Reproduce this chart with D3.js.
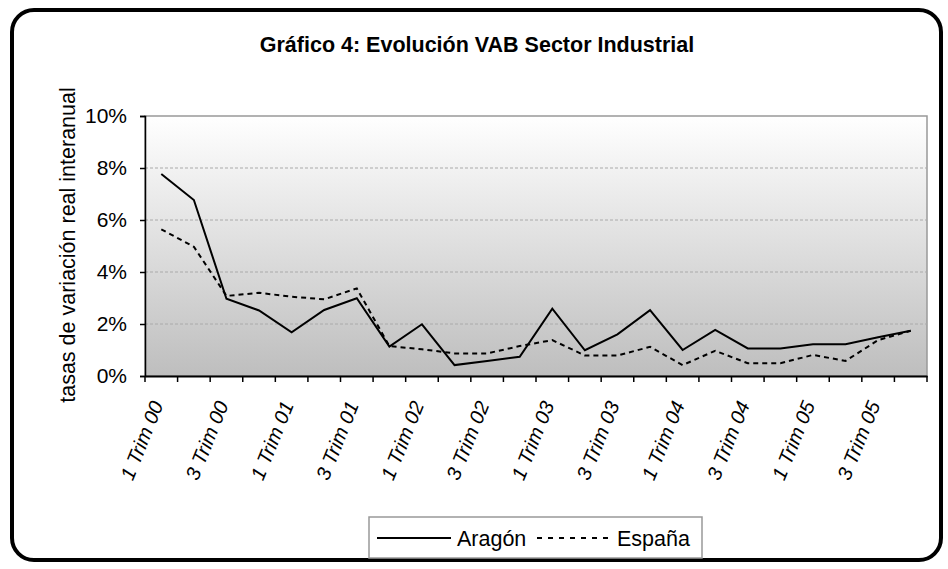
<!DOCTYPE html>
<html>
<head>
<meta charset="utf-8">
<script src="https://cdn.jsdelivr.net/npm/d3@7"></script>
<style>
  body { margin: 0; background: #fff; }
  svg text { font-family: "Liberation Sans", Arial, sans-serif; fill: #000; }
</style>
</head>
<body>
<svg id="chart" width="948" height="569"></svg>
<script>
// Trimestres 2000-2005
const quarters = [
  '1 Trim 00', '2 Trim 00', '3 Trim 00', '4 Trim 00',
  '1 Trim 01', '2 Trim 01', '3 Trim 01', '4 Trim 01',
  '1 Trim 02', '2 Trim 02', '3 Trim 02', '4 Trim 02',
  '1 Trim 03', '2 Trim 03', '3 Trim 03', '4 Trim 03',
  '1 Trim 04', '2 Trim 04', '3 Trim 04', '4 Trim 04',
  '1 Trim 05', '2 Trim 05', '3 Trim 05', '4 Trim 05'
];
const aragon = [7.77, 6.77, 2.97, 2.52, 1.68, 2.54, 2.99, 1.13,
                1.99, 0.42, 0.58, 0.74, 2.59, 0.99, 1.6, 2.53,
                1.0, 1.77, 1.06, 1.06, 1.22, 1.22, 1.49, 1.74];
const espana = [5.64, 4.97, 3.08, 3.2, 3.05, 2.95, 3.37, 1.15,
                1.03, 0.87, 0.87, 1.15, 1.38, 0.79, 0.79, 1.12,
                0.42, 0.97, 0.49, 0.49, 0.81, 0.58, 1.38, 1.74];
const yTicks = [0, 2, 4, 6, 8, 10];
const series = [
  { name: 'Aragón', values: aragon, dash: null },
  { name: 'España', values: espana, dash: '5,4' }
];

const svg = d3.select('#chart');

// marco redondeado
svg.append('rect')
  .attr('x', 12).attr('y', 10)
  .attr('width', 929).attr('height', 550)
  .attr('rx', 22).attr('ry', 22)
  .attr('fill', '#fff')
  .attr('stroke', '#000')
  .attr('stroke-width', 4);

svg.append('text')
  .attr('x', 477).attr('y', 52)
  .attr('text-anchor', 'middle')
  .style('font-size', '21.5px')
  .style('font-weight', 'bold')
  .text('Gráfico 4: Evolución VAB Sector Industrial');

const plot = { left: 145, right: 927, top: 116, bottom: 376 };

const x = d3.scaleBand().domain(quarters).range([plot.left, plot.right]);
const y = d3.scaleLinear().domain([0, 10]).range([plot.bottom, plot.top]);

// fondo degradado
const grad = svg.append('defs').append('linearGradient')
  .attr('id', 'bg').attr('x1', 0).attr('y1', 0).attr('x2', 0).attr('y2', 1);
grad.append('stop').attr('offset', '0%').attr('stop-color', '#ffffff');
grad.append('stop').attr('offset', '100%').attr('stop-color', '#bebebe');

svg.append('rect')
  .attr('x', plot.left).attr('y', plot.top)
  .attr('width', plot.right - plot.left).attr('height', plot.bottom - plot.top)
  .attr('fill', 'url(#bg)')
  .attr('stroke', '#999').attr('stroke-width', 1.5);

// rejilla
svg.append('g').selectAll('line')
  .data(yTicks.filter(d => d > 0 && d < 10))
  .join('line')
  .attr('x1', plot.left).attr('x2', plot.right)
  .attr('y1', d => y(d)).attr('y2', d => y(d))
  .attr('stroke', '#aaa').attr('stroke-dasharray', '3,2');

// eje Y
const yAxis = svg.append('g')
  .attr('transform', `translate(${plot.left},0)`)
  .call(d3.axisLeft(y).tickValues(yTicks).tickSize(5).tickPadding(13).tickFormat(d => d + '%'));
yAxis.selectAll('text').style('font-size', '21px');
yAxis.selectAll('line, path').attr('stroke', '#000').attr('stroke-width', 1.5);

// eje X
const xAxis = svg.append('g')
  .attr('transform', `translate(0,${plot.bottom})`)
  .call(d3.axisBottom(x).tickSize(0).tickFormat((d, i) => i % 2 === 0 ? d : ''));
xAxis.select('.domain').attr('stroke', '#000').attr('stroke-width', 2);
xAxis.selectAll('text')
  .style('font-size', '20px')
  .style('font-style', 'italic')
  .attr('text-anchor', 'end')
  .attr('y', 0)
  .attr('dy', '0.35em')
  .attr('transform', 'translate(-4,26) rotate(-68)');

// marcas entre categorías
const bounds = d3.range(quarters.length + 1).map(i => plot.left + i * x.step());
svg.append('g').selectAll('line')
  .data(bounds)
  .join('line')
  .attr('x1', d => d).attr('x2', d => d)
  .attr('y1', plot.bottom).attr('y2', plot.bottom + 6)
  .attr('stroke', '#000').attr('stroke-width', 1.5);

// líneas
const line = d3.line()
  .x((d, i) => x(quarters[i]) + x.bandwidth() / 2)
  .y(d => y(d));

svg.append('g').selectAll('path')
  .data(series)
  .join('path')
  .attr('d', d => line(d.values))
  .attr('fill', 'none')
  .attr('stroke', '#000')
  .attr('stroke-width', 2)
  .attr('stroke-dasharray', d => d.dash);

// título eje Y
svg.append('text')
  .attr('transform', `translate(75,245) rotate(-90)`)
  .attr('text-anchor', 'middle')
  .style('font-size', '21.5px')
  .text('tasas de variación real interanual');

// leyenda
const legend = svg.append('g');
legend.append('rect')
  .attr('x', 369).attr('y', 517).attr('width', 333).attr('height', 41)
  .attr('fill', '#fff').attr('stroke', '#999').attr('stroke-width', 1.5);
const items = legend.selectAll('g.item')
  .data(series)
  .join('g')
  .attr('transform', (d, i) => `translate(${377 + i * 160},538)`);
items.append('line')
  .attr('x1', 0).attr('x2', 74)
  .attr('stroke', '#000').attr('stroke-width', 2)
  .attr('stroke-dasharray', d => d.dash ? '5,6' : null);
items.append('text')
  .attr('x', 80).attr('dy', '0.35em')
  .style('font-size', '21.5px')
  .text(d => d.name);
</script>
</body>
</html>
